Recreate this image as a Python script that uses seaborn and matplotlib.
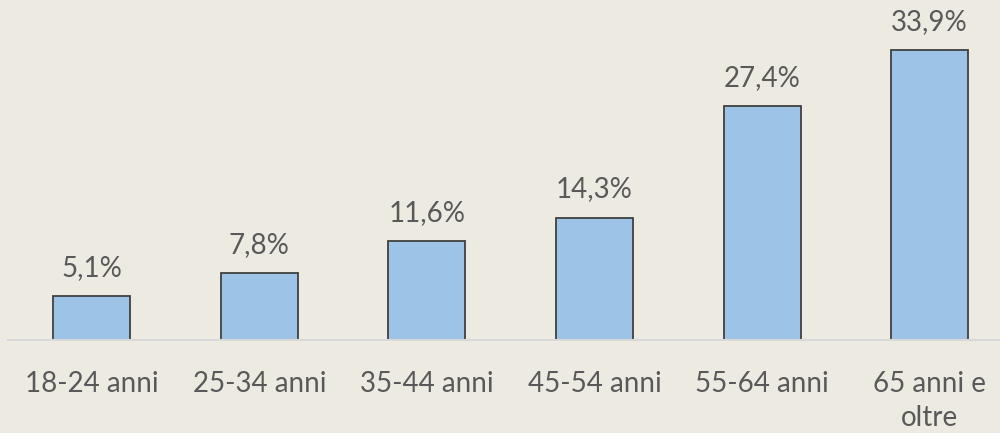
import matplotlib
matplotlib.use("Agg")
import matplotlib.pyplot as plt
import seaborn as sns
import pandas as pd

categories = ["18-24 anni", "25-34 anni", "35-44 anni", "45-54 anni", "55-64 anni", "65 anni e\noltre"]
values = [5.1, 7.8, 11.6, 14.3, 27.4, 33.9]
value_labels = ["5,1%", "7,8%", "11,6%", "14,3%", "27,4%", "33,9%"]

bg = "#EDEBE1"
text_color = "#595959"

sns.set_style("white")
plt.rcParams["font.family"] = ["Lato", "DejaVu Sans"]

df = pd.DataFrame({"cat": categories, "val": values})

fig = plt.figure(figsize=(10, 4.33), dpi=100)
fig.patch.set_facecolor(bg)
ax = fig.add_axes([0.008, 0.2148, 0.992, 0.750])
ax.set_facecolor(bg)

sns.barplot(data=df, x="cat", y="val", color="#9DC3E6", saturation=1,
            width=0.46, edgecolor="#404040", linewidth=1.3, ax=ax)

ax.bar_label(ax.containers[0], labels=value_labels, padding=11,
             fontsize=20, color=text_color)

ax.set_xlim(-0.5, 5.42)
ax.set_ylim(0, 38)
ax.set_xlabel("")
ax.set_ylabel("")
ax.set_yticks([])
for s in ["top", "right", "left"]:
    ax.spines[s].set_visible(False)
ax.spines["bottom"].set_color("#D9D9D9")
ax.spines["bottom"].set_linewidth(1.5)
ax.tick_params(axis="x", length=0, pad=22, labelsize=20, labelcolor=text_color)
ax.set_xticks(range(len(categories)))
ax.set_xticklabels(categories, multialignment="center", linespacing=1.4)
fig.canvas.draw()
for t in ax.get_xticklabels():
    t.set_multialignment("center")
    t.set_linespacing(1.4)

fig.savefig("out.png", dpi=100, facecolor=bg)
